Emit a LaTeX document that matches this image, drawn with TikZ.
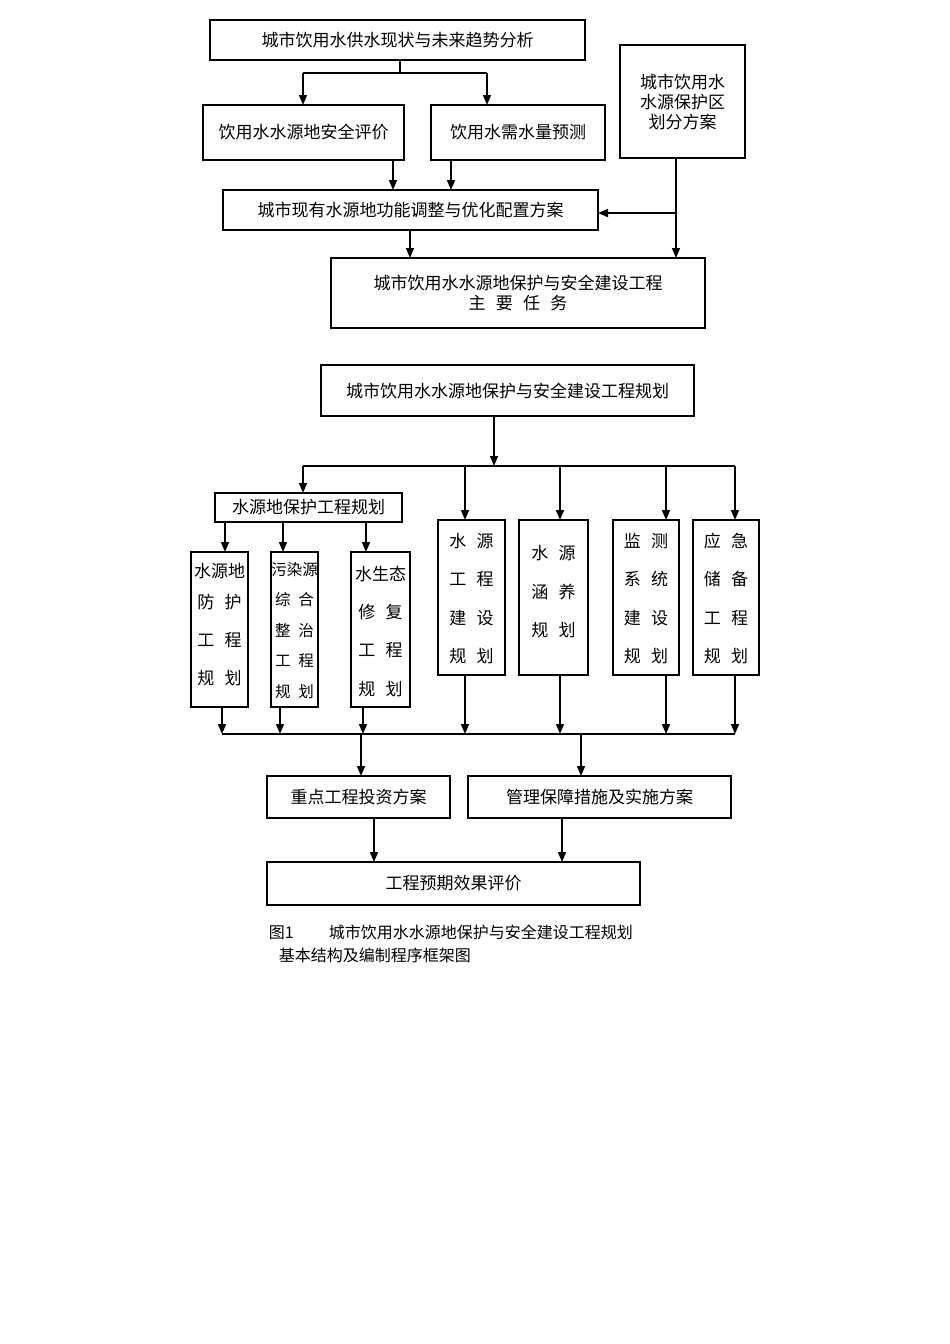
\documentclass[tikz,border=0pt]{standalone}
\usepackage{fontspec}
\setmainfont{Noto Sans CJK SC}
\usetikzlibrary{arrows.meta}
\newcommand\bx[6]{\node[box,minimum width=#4pt-#2pt,minimum height=#5pt-#3pt] (#1) at ({(#2+#4)/2},{(#3+#5)/2}) {#6};}
\begin{document}
\begin{tikzpicture}[x=1pt,y=-1pt,line width=1.6pt,
 box/.style={draw,rectangle,inner sep=0pt,outer sep=0pt,font=\fontsize{17}{20}\selectfont,align=center},
 vt/.style={font=\fontsize{17}{37}\selectfont},
 ar/.style={-{Triangle[length=10pt,width=8pt]}}]
\useasboundingbox (0,0) rectangle (950,1344);
% top part
\bx{A}{210}{20}{585}{60}{城市饮用水供水现状与未来趋势分析}
\bx{B}{203}{105}{404}{160}{饮用水水源地安全评价}
\bx{C}{431}{105}{605}{160}{饮用水需水量预测}
\bx{D}{620}{45}{745}{158}{\fontsize{17}{38}\selectfont 城市饮用水\\水源保护区\\划分方案}
\bx{E}{223}{190}{598}{230}{城市现有水源地功能调整与优化配置方案}
\bx{F}{331}{258}{705}{328}{\fontsize{17}{30}\selectfont 城市饮用水水源地保护与安全建设工程\\主\hspace{0.6em}要\hspace{0.6em}任\hspace{0.6em}务}
\coordinate (a1) at (400,73);
\draw (A.south -| a1) -- (a1);
\draw (303,73) -- (487,73);
\draw[ar] (303,73) -- (B.north -| 303,0);
\draw[ar] (487,73) -- (C.north -| 487,0);
\draw[ar] (B.south -| 393,0) -- (E.north -| 393,0);
\draw[ar] (C.south -| 451,0) -- (E.north -| 451,0);
\draw[ar] (D.south -| 676,0) -- (F.north -| 676,0);
\coordinate (d1) at (676,213);
\draw[ar] (d1) -- (E.east |- d1);
\draw[ar] (E.south -| 410,0) -- (F.north -| 410,0);
% bottom part
\bx{G}{321}{365}{694}{416}{城市饮用水水源地保护与安全建设工程规划}
\bx{H}{215}{493}{402}{522}{水源地保护工程规划}
\bx{I}{438}{520}{505}{675}{\begin{tikzpicture}[baseline]\end{tikzpicture}}
\bx{J}{519}{520}{588}{675}{}
\bx{K}{613}{520}{679}{675}{}
\bx{L}{693}{520}{759}{675}{}
\bx{M}{191}{552}{248}{707}{}
\bx{N}{271}{552}{318}{707}{}
\bx{O}{351}{552}{410}{707}{}
\tikzset{ct/.style={font=\fontsize{17}{20}\selectfont,anchor=center,inner sep=0pt}}
\foreach \t/\y in {水\hspace{0.6em}源/541,工\hspace{0.6em}程/579,建\hspace{0.6em}设/618,规\hspace{0.6em}划/656}{\node[ct] at (I.center |- 0,\y) {\t};}
\foreach \t/\y in {水\hspace{0.6em}源/553,涵\hspace{0.6em}养/592,规\hspace{0.6em}划/630}{\node[ct] at (J.center |- 0,\y) {\t};}
\foreach \t/\y in {监\hspace{0.6em}测/541,系\hspace{0.6em}统/579,建\hspace{0.6em}设/618,规\hspace{0.6em}划/656}{\node[ct] at (K.center |- 0,\y) {\t};}
\foreach \t/\y in {应\hspace{0.6em}急/541,储\hspace{0.6em}备/579,工\hspace{0.6em}程/618,规\hspace{0.6em}划/656}{\node[ct] at (L.center |- 0,\y) {\t};}
\foreach \t/\y in {水源地/571,防\hspace{0.6em}护/602,工\hspace{0.6em}程/640,规\hspace{0.6em}划/678}{\node[ct] at (M.center |- 0,\y) {\t};}
\foreach \t/\y in {污染源/570,综\hspace{0.5em}合/600,整\hspace{0.5em}治/631,工\hspace{0.5em}程/661,规\hspace{0.5em}划/692}{\node[ct,font=\fontsize{15.5}{18}\selectfont] at (N.center |- 0,\y) {\t};}
\foreach \t/\y in {水生态/574,修\hspace{0.6em}复/612,工\hspace{0.6em}程/650,规\hspace{0.6em}划/689}{\node[ct] at (O.center |- 0,\y) {\t};}
\bx{P}{267}{776}{450}{818}{重点工程投资方案}
\bx{Q}{468}{776}{731}{818}{管理保障措施及实施方案}
\bx{R}{267}{862}{640}{905}{工程预期效果评价}
\coordinate (g1) at (494,466);
\draw[ar] (G.south -| g1) -- (g1);
\draw (303,466) -- (735,466);
\draw[ar] (303,466) -- (H.north -| 303,0);
\foreach \n/\x in {I/465,J/560,K/666,L/735}{\draw[ar] (\x,466) -- (\n.north -| \x,0);}
\foreach \n/\x in {M/225,N/283,O/366}{\draw[ar] (H.south -| \x,0) -- (\n.north -| \x,0);}
\coordinate (b1) at (222,734);
\draw (b1) -- (735,734);
\foreach \n/\x in {M/222,N/280,O/363,I/465,J/560,K/666,L/735}{\draw[ar] (\n.south -| \x,0) -- (\x,734);}
\draw[ar] (361,734) -- (P.north -| 361,0);
\draw[ar] (581,734) -- (Q.north -| 581,0);
\draw[ar] (P.south -| 374,0) -- (R.north -| 374,0);
\draw[ar] (Q.south -| 562,0) -- (R.north -| 562,0);
\node[anchor=west,inner sep=0pt,font=\fontsize{16}{20}\selectfont] (cap1) at (268,932) {图1\hspace{2.2em}城市饮用水水源地保护与安全建设工程规划};
\node[anchor=west,inner sep=0pt,font=\fontsize{16}{20}\selectfont] (cap2) at (278,955) {基本结构及编制程序框架图};
\end{tikzpicture}
\end{document}
